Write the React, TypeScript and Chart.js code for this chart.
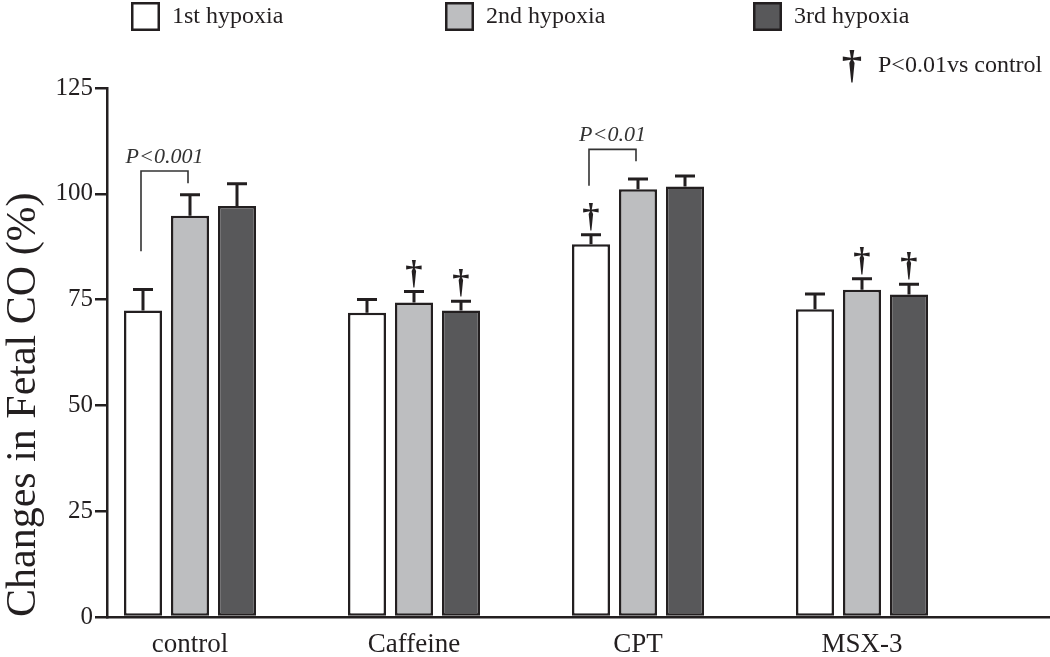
import React, { useEffect, useRef } from "react";
import { Chart, registerables } from "chart.js";

Chart.register(...registerables);

// ---------- data ----------
const categories = ["control", "Caffeine", "CPT", "MSX-3"];
const seriesLabels = ["1st hypoxia", "2nd hypoxia", "3rd hypoxia"];

const firstHypoxia = [72.4, 71.9, 88.1, 72.7];
const secondHypoxia = [94.8, 74.3, 101.1, 77.3];
const thirdHypoxia = [97.1, 72.4, 101.7, 76.2];

const firstErr = [5.0, 3.1, 2.2, 3.6];
const secondErr = [5.0, 2.6, 2.4, 2.6];
const thirdErr = [5.3, 2.2, 2.5, 2.4];

// † P<0.01 vs control
const firstDagger = [false, false, true, false];
const secondDagger = [false, true, false, true];
const thirdDagger = [false, true, false, true];

const yTicks = [0, 25, 50, 75, 100, 125];

// significance brackets between 1st and 2nd hypoxia
const bracketCategory = [0, 2];
const bracketText = ["P<0.001", "P<0.01"];
const bracketLeftLow = [86.4, 101.9];
const bracketTop = [105.4, 110.5];
const bracketRightLow = [102.5, 107.7];

const noteText = "P<0.01vs control";

// ---------- style ----------
const FONT = "'Liberation Serif', 'Times New Roman', serif";
const INK = "#231f20";
const FILLS = ["#ffffff", "#bdbec0", "#58585a"];

function drawDagger(ctx: CanvasRenderingContext2D, x: number, bottom: number, height: number) {
  ctx.save();
  ctx.font = `bold 100px ${FONT}`;
  const m = ctx.measureText("\u2020");
  const h100 = m.actualBoundingBoxAscent + m.actualBoundingBoxDescent;
  const size = (height * 100) / (h100 || 80);
  ctx.font = `bold ${size}px ${FONT}`;
  const m2 = ctx.measureText("\u2020");
  ctx.fillStyle = INK;
  ctx.textAlign = "center";
  ctx.textBaseline = "alphabetic";
  ctx.fillText("\u2020", x, bottom - m2.actualBoundingBoxDescent);
  ctx.restore();
}

const errorBarPlugin = {
  id: "errorBars",
  afterDatasetsDraw(chart: any) {
    const ctx = chart.ctx as CanvasRenderingContext2D;
    const yScale = chart.scales.y;
    ctx.save();
    ctx.strokeStyle = INK;
    ctx.lineWidth = 3;
    chart.data.datasets.forEach((ds: any, di: number) => {
      const meta = chart.getDatasetMeta(di);
      meta.data.forEach((bar: any, i: number) => {
        const v = ds.data[i].y;
        const e = ds.errors[i];
        const top = yScale.getPixelForValue(v + e);
        const x = bar.x;
        ctx.beginPath();
        ctx.moveTo(x, bar.y);
        ctx.lineTo(x, top);
        ctx.moveTo(x - 10, top);
        ctx.lineTo(x + 10, top);
        ctx.stroke();
        if (ds.daggers[i]) drawDagger(ctx, x, top - 4, 28);
      });
    });
    ctx.restore();
  },
};

const bracketPlugin = {
  id: "brackets",
  afterDatasetsDraw(chart: any) {
    const ctx = chart.ctx as CanvasRenderingContext2D;
    const yScale = chart.scales.y;
    const m0 = chart.getDatasetMeta(0);
    const m1 = chart.getDatasetMeta(1);
    ctx.save();
    bracketCategory.forEach((c, k) => {
      const xl = m0.data[c].x - 2;
      const xr = m1.data[c].x - 2;
      const yl = yScale.getPixelForValue(bracketLeftLow[k]);
      const yt = yScale.getPixelForValue(bracketTop[k]);
      const yr = yScale.getPixelForValue(bracketRightLow[k]);
      ctx.strokeStyle = "#333333";
      ctx.lineWidth = 1.6;
      ctx.beginPath();
      ctx.moveTo(xl, yl);
      ctx.lineTo(xl, yt);
      ctx.lineTo(xr, yt);
      ctx.lineTo(xr, yr);
      ctx.stroke();
      ctx.fillStyle = "#333333";
      ctx.font = `italic 22px ${FONT}`;
      ctx.textAlign = "center";
      ctx.textBaseline = "middle";
      ctx.fillText(bracketText[k], (xl + xr) / 2, yt - 14);
    });
    ctx.restore();
  },
};

const legendPlugin = {
  id: "customLegend",
  afterDraw(chart: any) {
    const ctx = chart.ctx as CanvasRenderingContext2D;
    const boxX = [131, 445, 753];
    ctx.save();
    chart.data.datasets.forEach((ds: any, i: number) => {
      const x = boxX[i];
      ctx.fillStyle = ds.backgroundColor;
      ctx.fillRect(x, 2, 29, 29);
      ctx.strokeStyle = INK;
      ctx.lineWidth = 2.5;
      ctx.strokeRect(x + 1.25, 3.25, 26.5, 26.5);
      ctx.fillStyle = INK;
      ctx.font = `24px ${FONT}`;
      ctx.textAlign = "left";
      ctx.textBaseline = "middle";
      ctx.fillText(ds.label, x + 41, 17);
    });
    drawDagger(ctx, 852, 94, 33);
    ctx.fillStyle = INK;
    ctx.font = `24px ${FONT}`;
    ctx.textAlign = "left";
    ctx.textBaseline = "middle";
    ctx.fillText(noteText, 878, 66);
    ctx.restore();
  },
};

export default function App() {
  const canvasRef = useRef<HTMLCanvasElement | null>(null);

  useEffect(() => {
    const canvas = canvasRef.current;
    if (!canvas) return;
    const values = [firstHypoxia, secondHypoxia, thirdHypoxia];
    const errors = [firstErr, secondErr, thirdErr];
    const daggers = [firstDagger, secondDagger, thirdDagger];

    const chart = new Chart(canvas, {
      type: "bar",
      data: {
        datasets: seriesLabels.map((label, s) => ({
          label,
          data: categories.map((_, i) => ({ x: i, y: values[s][i] })),
          errors: errors[s],
          daggers: daggers[s],
          backgroundColor: FILLS[s],
          borderColor: INK,
          borderWidth: 2.5,
          borderSkipped: false,
          categoryPercentage: 0.6295,
          barPercentage: 0.8085,
        })) as any,
      },
      options: {
        responsive: false,
        maintainAspectRatio: false,
        animation: false,
        devicePixelRatio: 1,
        layout: { padding: { top: 88, left: 0, right: 0, bottom: 0 } },
        plugins: {
          legend: { display: false },
          tooltip: { enabled: false },
        },
        scales: {
          x: {
            type: "linear",
            offset: false,
            min: -0.37054,
            max: 3.8393,
            afterBuildTicks: (s: any) => {
              s.ticks = categories.map((_, i) => ({ value: i }));
            },
            afterFit: (s: any) => {
              s.height = 40;
            },
            ticks: {
              callback: (v: any) => categories[v] ?? "",
              color: INK,
              font: { family: FONT, size: 27 },
              padding: 12,
              autoSkip: false,
              maxRotation: 0,
            },
            grid: { display: false, drawTicks: false, offset: false },
            border: { display: true, color: INK, width: 2.5 },
          },
          y: {
            min: 0,
            max: 125,
            afterBuildTicks: (s: any) => {
              s.ticks = yTicks.map((v) => ({ value: v }));
            },
            afterFit: (s: any) => {
              s.width = 107;
            },
            ticks: {
              color: INK,
              font: { family: FONT, size: 25 },
              padding: 2,
            },
            grid: {
              drawOnChartArea: false,
              drawTicks: true,
              tickLength: 12,
              color: INK,
              lineWidth: 2.5,
            },
            border: { display: true, color: INK, width: 2.5 },
            title: {
              display: true,
              text: "Changes in Fetal CO (%)",
              color: INK,
              align: "start",
              font: { family: FONT, size: 42, lineHeight: 1 },
              padding: { top: 3, bottom: 0 },
            },
          },
        },
      } as any,
      plugins: [errorBarPlugin, bracketPlugin, legendPlugin],
    });
    return () => chart.destroy();
  }, []);

  return (
    <div style={{ position: "absolute", left: 0, top: 0, width: 1050, height: 657, background: "#ffffff" }}>
      <canvas ref={canvasRef} width={1050} height={657} style={{ display: "block" }} />
    </div>
  );
}
